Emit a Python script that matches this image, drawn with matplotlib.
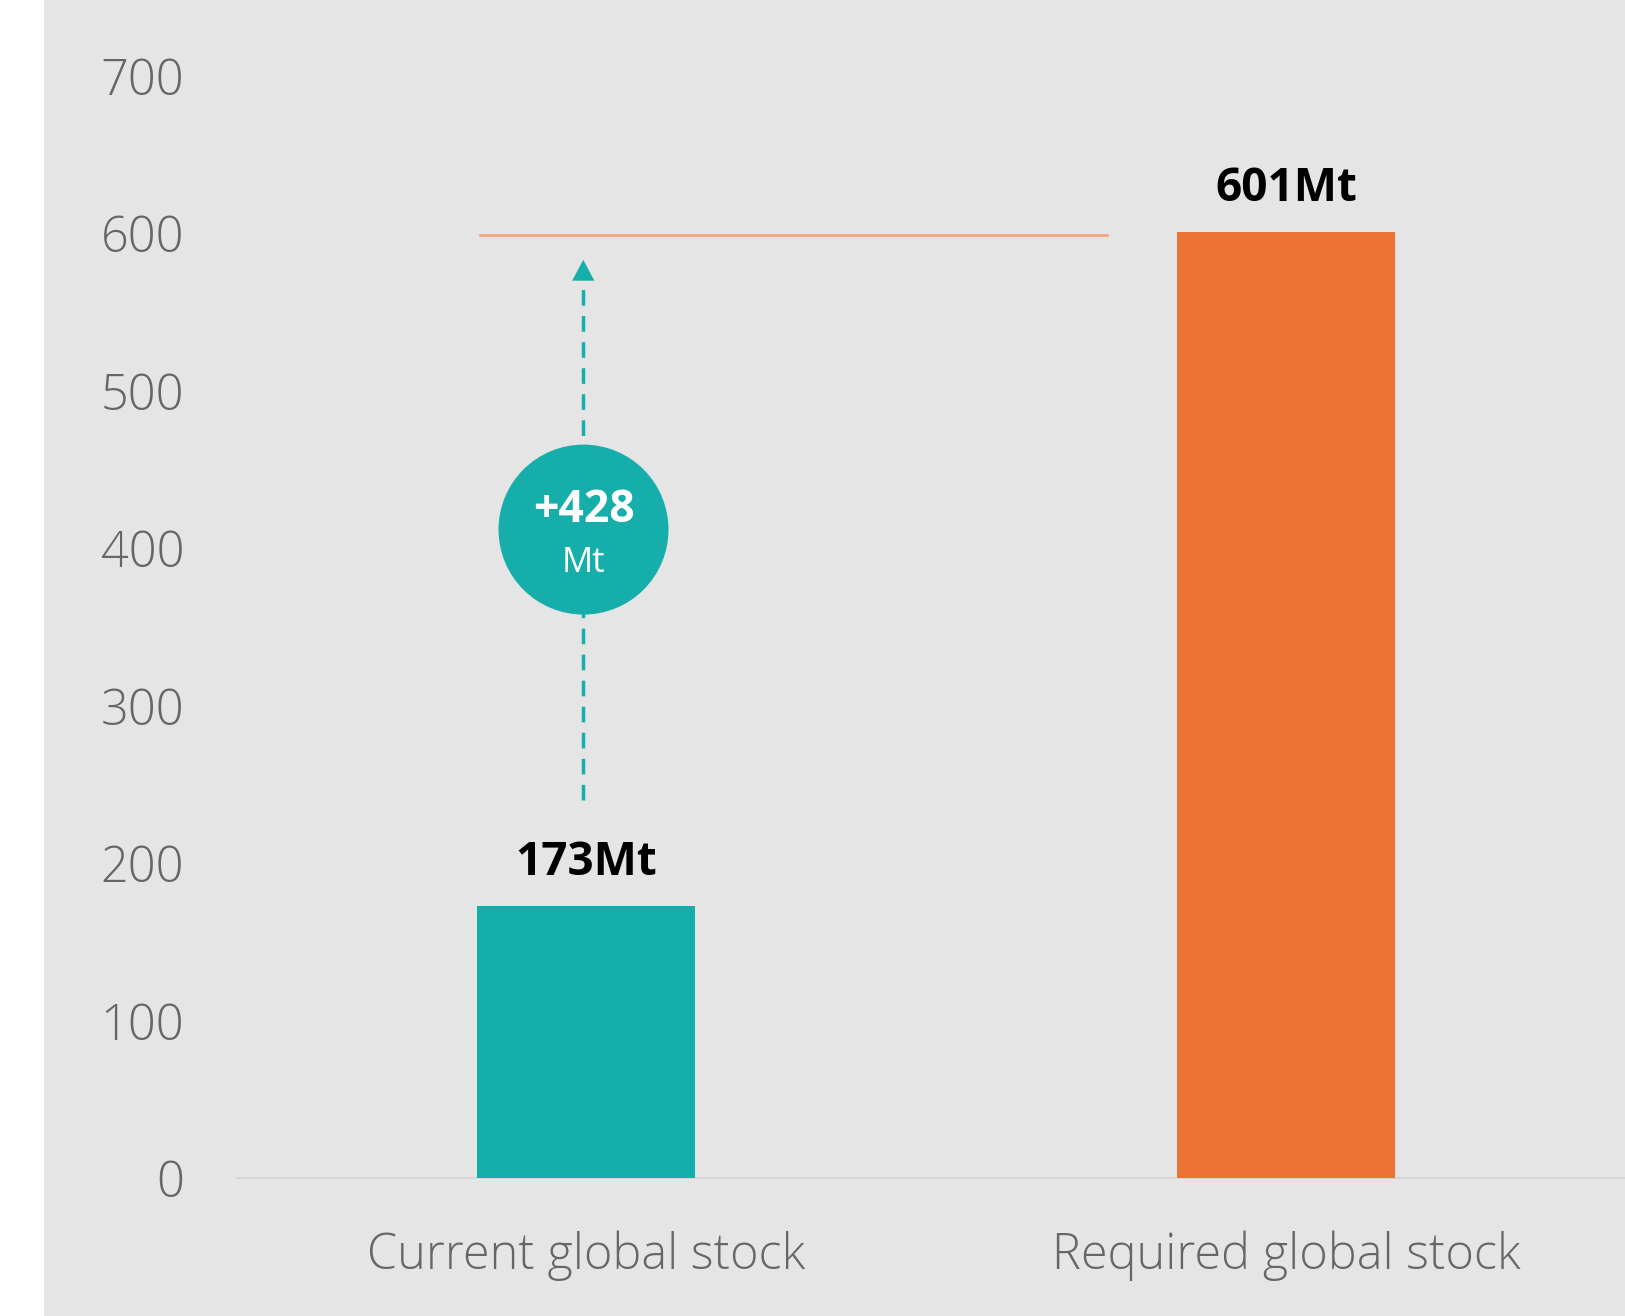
import matplotlib
matplotlib.use("Agg")
import matplotlib.pyplot as plt
from matplotlib.patches import Rectangle, Circle

categories = ["Current global stock", "Required global stock"]
values = [173, 601]
value_labels = ["173Mt", "601Mt"]
gap_label = "+428"
gap_unit = "Mt"
yticks = [0, 100, 200, 300, 400, 500, 600, 700]

teal = "#16AEAA"
orange = "#EC7232"
bg = "#E5E5E5"
font = "Open Sans"

fig = plt.figure(figsize=(16.25, 13.16), dpi=100, facecolor="white")
fig.patches.append(Rectangle((44 / 1625, 0), 1, 1, transform=fig.transFigure,
                             facecolor=bg, edgecolor="none", zorder=-10))
ax = fig.add_axes([237 / 1625, 138 / 1316, 1 - 237 / 1625, 1 - 138 / 1316])
ax.set_facecolor("none")

x = list(range(len(categories)))
ax.bar(x, values, width=0.312, color=[teal, orange], zorder=3)
ax.set_xlim(-0.4986, 1.484)
ax.set_ylim(0, 748)

for xi, v, lab in zip(x, values, value_labels):
    ax.annotate(lab, (xi, v), xytext=(0, 31), textcoords="offset points",
                ha="center", va="center", fontsize=33, fontweight="bold",
                family=font, color="black")

for s in ["top", "right", "left"]:
    ax.spines[s].set_visible(False)
ax.spines["bottom"].set_color("#D6D6D6")
ax.spines["bottom"].set_linewidth(1.5)

ax.set_yticks(yticks)
ax.set_yticklabels([str(t) for t in yticks], family=font, fontsize=35,
                   color="#666666", fontweight="light")
ax.tick_params(axis="y", length=0, pad=38)
ax.set_xticks(x)
ax.set_xticklabels(categories, family=font, fontsize=35, color="#666666",
                   fontweight="light")
ax.tick_params(axis="x", length=0, pad=38)

# target line
ax.plot([-0.151, 0.744], [values[1] - 2, values[1] - 2], color="#F2A47E", lw=2, zorder=2)

# dashed arrow
ax.plot([-0.004, -0.004], [240, 570], color=teal, lw=2.5, ls=(0, (4.5, 3)), zorder=2)
ax.annotate("", xy=(-0.004, 583), xytext=(-0.004, 560),
            arrowprops=dict(arrowstyle="-|>,head_length=0.75,head_width=0.4",
                            color=teal, lw=0, shrinkA=0, shrinkB=0,
                            mutation_scale=20))

# circle
circ = Circle((583.5, 1316 - 529.6), 85, transform=None, facecolor=teal,
              edgecolor="none", zorder=4)
fig.patches.append(circ)
fig.text(583.5 / 1625, 1 - 510 / 1316, gap_label, ha="center", va="center",
         fontsize=32, fontweight="bold", family=font, color="white", zorder=5)
fig.text(583.5 / 1625, 1 - 563 / 1316, gap_unit, ha="center", va="center",
         fontsize=25, family=font, color="white", zorder=5)

fig.savefig("out.png", dpi=100, facecolor="white")
